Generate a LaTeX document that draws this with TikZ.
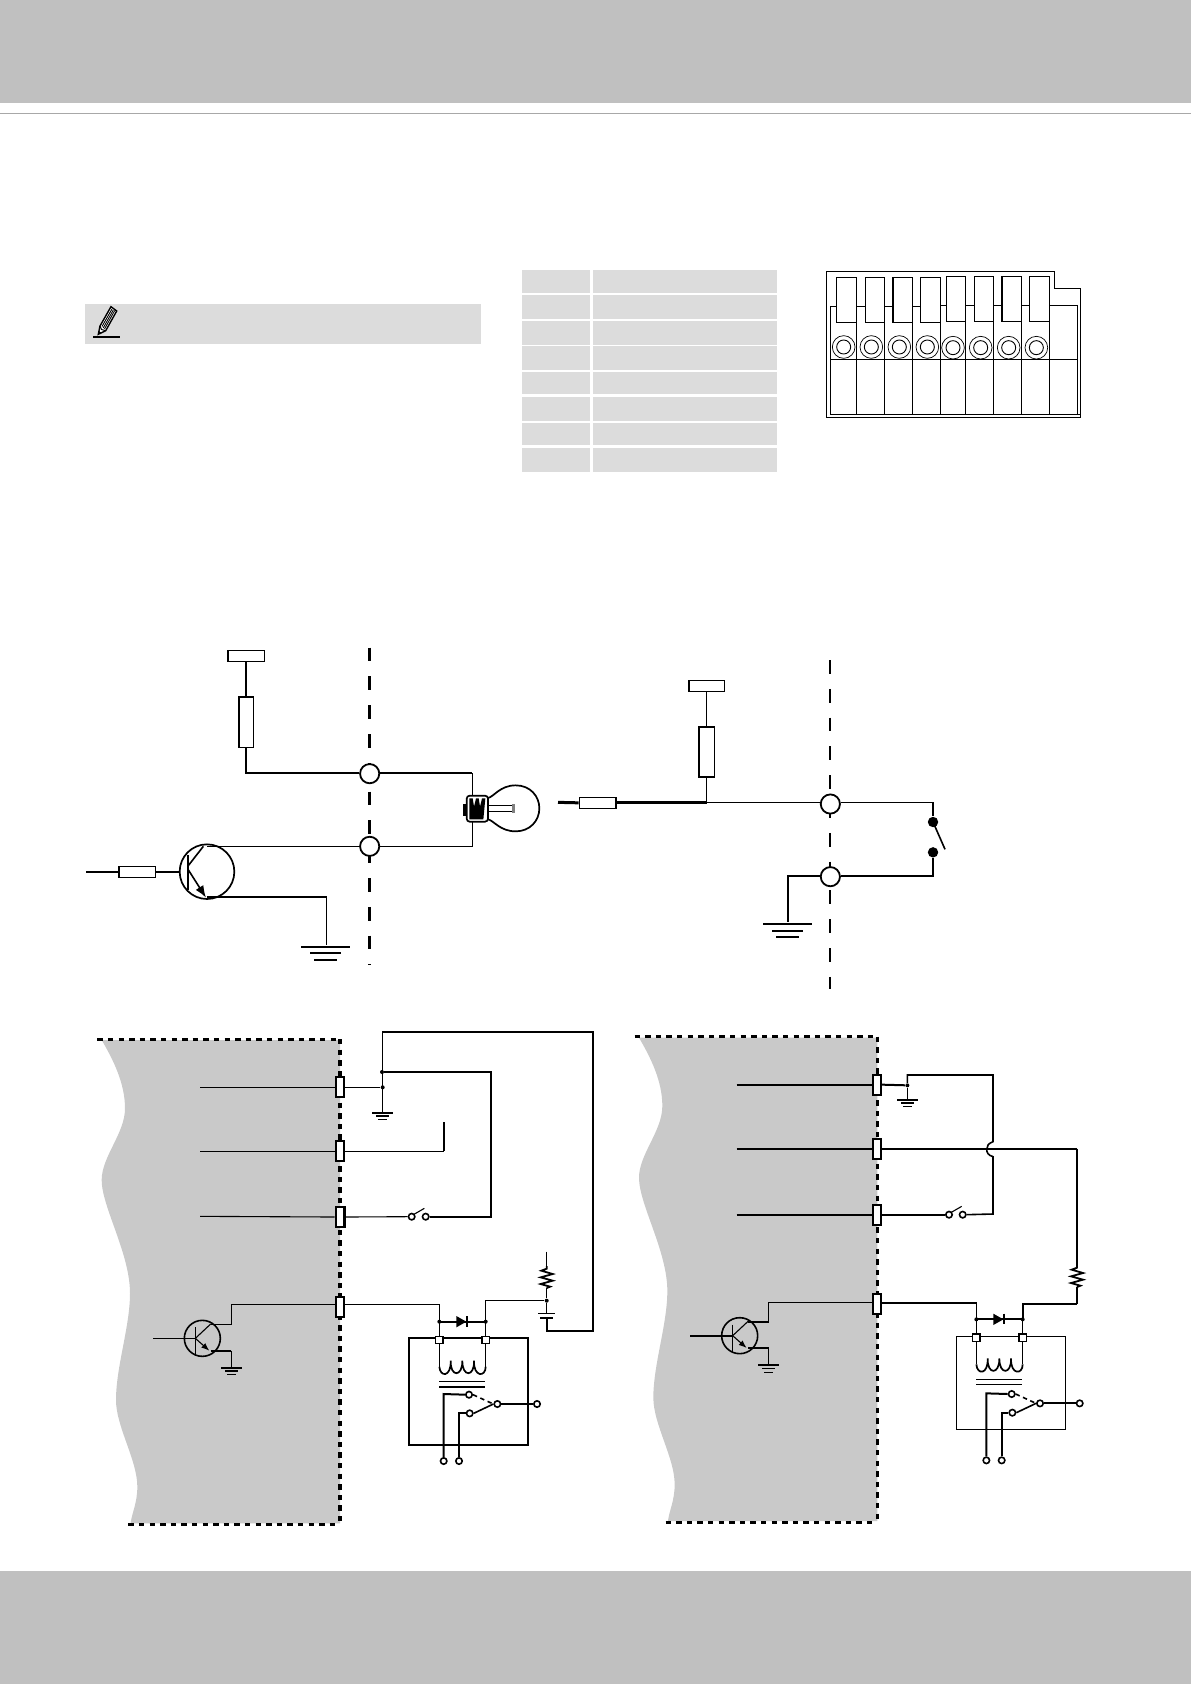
\documentclass[tikz,border=0pt]{standalone}
\usetikzlibrary{arrows.meta}
\definecolor{band}{HTML}{C0C0C0}
\definecolor{rulegray}{HTML}{A8A8A8}
\definecolor{panel}{HTML}{DCDCDC}
\definecolor{wavegray}{HTML}{C9C9C9}
\tikzset{
  thinw/.style={line width=0.55pt},
  thickw/.style={line width=1.0pt},
  midw/.style={line width=0.8pt},
  zoomed/.style={x=0.16667pt,y=-0.16667pt},
  termbox/.style={draw=black,fill=white,line width=1.0pt,minimum width=4.2pt,minimum height=10pt,inner sep=0pt},
  sqbox/.style={draw=black,fill=white,line width=0.7pt,minimum width=3.8pt,minimum height=3.6pt,inner sep=0pt},
  contact/.style={circle,draw=black,fill=white,line width=0.8pt,minimum size=3.2pt,inner sep=0pt},
  port/.style={circle,draw=black,fill=white,line width=0.9pt,minimum size=9.6pt,inner sep=0pt},
  solder/.style={circle,fill=black,minimum size=2pt,inner sep=0pt},
  bigdot/.style={circle,fill=black,minimum size=5.2pt,inner sep=0pt},
  edgedash/.style={line width=1.5pt,dash pattern=on 2.7pt off 2.6pt},
  cutdash/.style={line width=1.2pt,dash pattern=on 6.9pt off 7.5pt},
  groundpic/.pic={
    \draw[line width=1pt] (-31,0) -- (31,0);
    \draw[line width=0.8pt] (-19,10) -- (19,10);
    \draw[line width=0.8pt] (-13,21) -- (13,21);
  },
  smallnpn/.pic={
    \draw[line width=0.8pt] (0,0) circle (54);
    \draw[thinw] (-21,-33) -- (-21,48);
    \draw[thinw] (-21,0) -- (25,-43);
    \draw[thinw,-{Latex[length=4pt,width=3pt]}] (-21,0) -- (21,37);
  },
  contactset/.pic={
    \node[contact] (cu) at (0,0) {};
    \node[contact] (cc) at (85,28) {};
    \node[contact] (cl) at (2,56) {};
    \node[contact] (co) at (204,28) {};
    \node[contact] (ta) at (-76,199) {};
    \node[contact] (tb) at (-30,199) {};
    \draw[thickw] (cu.west) -- (-76,-2) -- (ta.north);
    \draw[thickw] (cl.west) -- (-30,56) -- (tb.north);
    \draw[midw,dash pattern=on 2.2pt off 1.8pt] (cu.east) -- (cc.west);
    \draw[midw] (cl.east) -- (cc.west);
    \draw[thickw] (cc.east) -- (co.west);
  },
  coilset/.pic={
    \draw[midw] (0,-55) -- (0,80);
    \draw[midw] (139,-55) -- (139,80);
    \draw[line width=0.85pt] (0,80) .. controls (2,112) and (36,112) .. (34,62)
      .. controls (32,112) and (70,112) .. (69,62)
      .. controls (68,112) and (106,112) .. (104,62)
      .. controls (102,112) and (139,112) .. (139,80);
    \draw[midw] (0,125) -- (138,125);
    \draw[midw] (0,141) -- (138,141);
    \node[sqbox] at (0,0) {};
    \node[sqbox] at (139,0) {};
    \draw[thickw] (0,-55) -- (139,-55);
    \fill (51,-72) -- (51,-38) -- (81,-55) -- cycle;
    \draw[thinw] (83,-72) -- (83,-40);
    \node[solder] at (0,-55) {};
    \node[solder] at (139,-55) {};
  },
  zigzag/.pic={
    \draw[line width=0.9pt] (0,0) -- (0,8) -- (-16,14) -- (18,24) -- (-18,34) -- (18,44) -- (-18,54) -- (10,62) -- (0,66);
  },
}
\begin{document}
\begin{tikzpicture}[x=0.5pt,y=-0.5pt]
\useasboundingbox (0,0) rectangle (1191,1684);
% page furniture
\fill[band] (0,0) rectangle (1191,103);
\fill[band] (0,1571) rectangle (1191,1684);
\draw[rulegray,line width=0.6pt] (0,113.2) -- (1191,113.2);
% note box
\fill[panel] (85,304) rectangle (481,344);
% pencil
\draw[line width=0.7pt,fill=white] (111,306.7) -- (116.7,311) -- (105.7,330.7) -- (98.3,334.3) -- (100,326) -- cycle;
\draw[line width=0.45pt] (112,309) -- (102,326.5);
\draw[line width=0.45pt] (113.3,310) -- (103.2,328);
\draw[line width=0.45pt] (114.7,310.6) -- (104.5,329);
\draw[line width=0.5pt] (100,326) -- (101.5,329.5) -- (105.7,330.7);
\fill (98.3,334.3) -- (98.9,331) -- (101.5,332.8) -- cycle;
\draw[line width=0.8pt] (93,337) -- (120,337);
% table
\foreach \ya/\yb in {270/293.3,295/318.7,321/344.7,346.3/369.7,372/394.3,397.3/420.7,423/445.3,448/471.7}{
  \fill[panel] (522,\ya) rectangle (590.3,\yb);
  \fill[panel] (593.3,\ya) rectangle (777,\yb);
}
% connector block, zoom units
\begin{scope}[shift={(820,265)},zoomed]
  \draw[line width=0.7pt] (20,20) -- (703,20) -- (703,70) -- (781,70) -- (781,457) -- (20,457) -- cycle;
  \draw[line width=0.5pt] (31,447) -- (781,447);
  \draw[line width=0.5pt] (772,120) -- (772,447);
  \draw[line width=0.5pt] (31,124) -- (31,447);
  \draw[line width=0.6pt] (31,283) -- (772,283);
  \foreach \px in {109,193,277,361,436,520,604,688}{ \draw[line width=0.5pt] (\px,120) -- (\px,447); }
  \foreach \pa/\pb in {31/49,109/136,193/219,277/301}{ \draw[line width=0.5pt] (\pa,124) -- (\pb,124); }
  \foreach \pa/\pb in {361/379,436/463,520/546,604/628,688/772}{ \draw[line width=0.5pt] (\pa,121) -- (\pb,121); }
  \foreach \pa/\pb in {49/109,136/193,219/277,301/361}{ \draw[line width=0.6pt,fill=white] (\pa,37) rectangle (\pb,172); }
  \foreach \pa/\pb in {379/436,463/520,546/604,628/688}{ \draw[line width=0.6pt,fill=white] (\pa,34) rectangle (\pb,169); }
  \foreach \pc in {71,154,238,322}{ \draw[line width=0.35pt,fill=white] (\pc,246) circle (34); \draw[line width=0.45pt] (\pc,246) circle (21); }
  \foreach \pc in {399,482,566,649}{ \draw[line width=0.35pt,fill=white] (\pc,248) circle (34); \draw[line width=0.45pt] (\pc,248) circle (21); }
\end{scope}
% first circuit: lamp
\begin{scope}[shift={(70,630)},zoomed]
  \draw[cutdash] (899,53) -- (899,1006);
  \node[draw,fill=white,line width=0.8pt,minimum width=18.3pt,minimum height=5.5pt,inner sep=0pt] (vdda) at (528,77.5) {};
  \node[draw,fill=white,line width=0.8pt,minimum width=7.3pt,minimum height=25.3pt,inner sep=0pt] (ra) at (528,276) {};
  \node[port] (pa) at (899,431) {};
  \node[port] (pb) at (899,649) {};
  \coordinate (lampturn) at (1207,429);
  \coordinate (lampback) at (1207,649);
  \draw[midw] (vdda.south) -- (ra.north);
  \draw[midw] (ra.south) -- (528,429) -- (pa.west |- 0,429);
  \draw[midw] (pa.east |- 0,429) -- (lampturn);
  \draw[thinw] (lampturn) -- (lampback) -- (pb.east);
  \draw[thinw] (pb.west) -- (410,649);
  % lamp
  \draw[line width=0.85pt] (1254,504) .. controls (1272,500) and (1290,466) .. (1337,466)
    .. controls (1380,466) and (1408,498) .. (1408,535)
    .. controls (1408,572) and (1380,604) .. (1337,604)
    .. controls (1290,604) and (1272,572) .. (1254,568);
  \draw[line width=0.6pt] (1254,526) -- (1328,526);
  \draw[line width=0.6pt] (1254,545) -- (1328,545);
  \fill[gray] (1326,522) rectangle (1334,548);
  \fill (1179,523) rectangle (1190,558);
  \draw[line width=0.85pt,fill=white,rounded corners=1.5pt] (1190,497) rectangle (1254,575);
  \fill (1198,505) -- (1208,505) -- (1212,530) -- (1218,505) -- (1226,505) -- (1230,530) -- (1236,505) -- (1246,505) -- (1240,568) -- (1198,568) -- cycle;
  % transistor
  \node[draw,fill=white,line width=0.8pt,minimum width=18.3pt,minimum height=5.5pt,inner sep=0pt] (rb) at (202,726) {};
  \coordinate (basein) at (48,726);
  \draw[midw] (basein) -- (rb.west);
  \draw[midw] (rb.east) -- (330,726);
  \draw[line width=0.85pt] (411,725) circle (82);
  \draw[midw] (354,675) -- (354,780);
  \draw[midw] (354,708) -- (400,649);
  \draw[midw,-{Latex[length=6pt,width=4.5pt]}] (354,718) -- (408,803);
  \draw[line width=0.8pt] (410,801) -- (769,801) -- (769,945);
  \draw[line width=1pt] (693,950) -- (840,950);
  \draw[line width=1pt] (720,968) -- (813,968);
  \draw[line width=1pt] (733,989) -- (801,989);
\end{scope}
% second circuit: switch
\begin{scope}[shift={(540,650)},zoomed]
  \draw[cutdash] (870,30) -- (870,1018);
  \node[draw,fill=white,line width=0.8pt,minimum width=17.8pt,minimum height=5.5pt,inner sep=0pt] (vddb) at (500,107.5) {};
  \node[draw,fill=white,line width=0.8pt,minimum width=7.8pt,minimum height=25.2pt,inner sep=0pt] (rc) at (500,306) {};
  \node[draw,fill=white,line width=0.8pt,minimum width=18.2pt,minimum height=5.5pt,inner sep=0pt] (rd) at (173,458.5) {};
  \node[port] (pc) at (871,462) {};
  \node[port] (pd) at (871,680) {};
  \node[bigdot] (sa) at (1179,516) {};
  \node[bigdot] (sb) at (1179,607) {};
  \coordinate (inb) at (54,457);
  \coordinate (nodeb) at (500,457);
  \draw[midw] (vddb.south) -- (rc.north);
  \draw[midw] (rc.south) -- (nodeb);
  \draw[line width=1.5pt] (inb) -- (rd.west);
  \draw[line width=1.5pt] (rd.east |- nodeb) -- (nodeb);
  \draw[thinw] (nodeb) -- (pc.west |- nodeb);
  \draw[thinw] (pc.east |- nodeb) -- (1179,457) -- (sa);
  \draw[midw] (sa.center) -- (1215,598);
  \draw[midw] (sb) -- (1179,678) -- (pd.east |- 0,678);
  \draw[midw] (pd.west |- 0,678) -- (744,678) -- (744,815);
  \draw[line width=1pt] (669,822) -- (815,822);
  \draw[line width=1pt] (696,843) -- (789,843);
  \draw[line width=1pt] (708,861) -- (777,861);
\end{scope}
% third circuit
\begin{scope}[shift={(90,1020)},zoomed]
  \fill[wavegray] (35,60) .. controls (70,120) and (105,190) .. (105,265)
    .. controls (105,340) and (35,410) .. (35,480)
    .. controls (35,560) and (120,700) .. (120,820)
    .. controls (120,920) and (78,1040) .. (78,1140)
    .. controls (78,1220) and (142,1320) .. (142,1400)
    .. controls (142,1450) and (125,1480) .. (122,1510)
    -- (750,1510) -- (750,60) -- cycle;
  \draw[edgedash] (22,57) -- (750,57);
  \draw[edgedash] (115,1513) -- (750,1513);
  \draw[edgedash,line width=1.7pt] (750,57) -- (750,1513);
  \node[termbox] (a1) at (750,202) {};
  \node[termbox] (a2) at (750,394) {};
  \node[termbox,line width=1.3pt] (a3) at (750,591) {};
  \node[termbox] (a4) at (750,860) {};
  \node[solder] (aj1) at (878,202) {};
  \node[solder] (aj2) at (876,156) {};
  \node[solder] (aj3) at (1370,842) {};
  \node[contact] (asa) at (965,590) {};
  \node[contact] (asb) at (1007,590) {};
  \coordinate (a1in) at (330,202);
  \coordinate (a2in) at (330,394);
  \coordinate (a3in) at (330,589);
  \draw[thinw] (a1in) -- (a1.west);
  \draw[thinw] (a1.east) -- (aj1);
  \draw[thinw] (a2in) -- (a2.west);
  \draw[thinw] (a2.east) -- (1062,394);
  \draw[midw] (1062,394) -- (1062,307);
  \draw[thinw] (a3in) -- (a3.west);
  \draw[thinw] (a3.east) -- (asa.west);
  \draw[thinw] (970,584) -- (1003,565);
  \draw[thickw] (asb.east) -- (1204,590) -- (1204,156) -- (aj2);
  \draw[thickw] (877,36) -- (1508,36) -- (1508,932) -- (1370,932) -- (1370,895);
  \draw[midw] (877,36) -- (877,275);
  \pic at (877,278) {groundpic};
  % transistor and output
  \pic at (337,955) {smallnpn};
  \draw[thinw] (190,955) -- (316,955);
  \draw[midw] (362,913) -- (424,913) -- (424,854) -- (a4.west |- 0,854);
  \draw[thickw] (362,992) -- (424,992);
  \draw[midw] (424,992) -- (424,1042);
  \pic at (424,1043) {groundpic};
  \draw[midw] (a4.east |- 0,854) -- (1048,854) -- (1048,905);
  % coil and contacts
  \draw[line width=1pt] (957,955) rectangle (1314,1275);
  \pic at (1048,960) {coilset};
  \pic at (1137,1124) {contactset};
  % supply
  \draw[midw] (1187,905) -- (1187,842) -- (aj3);
  \pic at (1370,738) {zigzag};
  \draw[thinw] (1370,695) -- (1370,738);
  \draw[midw] (1370,804) -- (aj3);
  \draw[midw] (aj3) -- (1370,880);
  \draw[thinw] (1345,880) -- (1395,880);
  \draw[thickw] (1350,893) -- (1390,893);
\end{scope}
% fourth circuit
\begin{scope}[shift={(630,1020)},zoomed]
  \fill[wavegray] (27,53) .. controls (62,113) and (97,183) .. (97,258)
    .. controls (97,333) and (27,403) .. (27,473)
    .. controls (27,553) and (112,693) .. (112,813)
    .. controls (112,913) and (70,1033) .. (70,1133)
    .. controls (70,1213) and (134,1313) .. (134,1393)
    .. controls (134,1443) and (117,1473) .. (114,1503)
    -- (742,1503) -- (742,53) -- cycle;
  \draw[edgedash] (14,50) -- (742,50);
  \draw[edgedash] (107,1506) -- (742,1506);
  \draw[edgedash] (742,50) -- (742,1506);
  \node[termbox] (b1) at (741,194) {};
  \node[termbox] (b2) at (741,386) {};
  \node[termbox] (b3) at (741,584) {};
  \node[termbox] (b4) at (741,853) {};
  \node[solder] (bj1) at (832,196) {};
  \node[contact] (bsa) at (957,584) {};
  \node[contact] (bsb) at (998,584) {};
  \coordinate (b1in) at (320,194);
  \coordinate (b2in) at (320,386);
  \coordinate (b3in) at (320,584);
  \draw[thickw] (b1in) -- (b1.west);
  \draw[thickw] (b1.east) -- (bj1);
  \draw[thinw] (bj1) -- (832,238);
  \pic at (832,239) {groundpic};
  \draw[midw] (bj1) -- (832,165) -- (1089,165) -- (1089,365)
    .. controls (1075,370) and (1070,378) .. (1070,388)
    .. controls (1070,398) and (1075,406) .. (1089,410)
    -- (1089,582) -- (bsb.east);
  \draw[thickw] (b2in) -- (b2.west);
  \draw[thickw] (b2.east) -- (1341,386);
  \draw[midw] (1341,386) -- (1341,735);
  \pic at (1341,735) {zigzag};
  \draw[midw] (1341,801) -- (1341,852);
  \draw[thickw] (1341,852) -- (1178,852) -- (1178,899);
  \draw[thickw] (b3in) -- (b3.west);
  \draw[thickw] (b3.east) -- (bsa.west);
  \draw[thinw] (962,578) -- (995,559);
  \pic at (329,947) {smallnpn};
  \draw[thickw] (180,947) -- (308,947);
  \draw[midw] (354,906) -- (416,906) -- (416,847) -- (b4.west |- 0,847);
  \draw[thickw] (354,985) -- (416,985);
  \draw[midw] (416,985) -- (416,1035);
  \pic at (416,1036) {groundpic};
  \draw[midw] (b4.east |- 0,849) -- (1039,849) -- (1039,899);
  \draw[line width=0.62pt] (979,949) rectangle (1306,1228);
  \pic at (1039,953) {coilset};
  \pic at (1145,1122) {contactset};
\end{scope}
\end{tikzpicture}
\end{document}
